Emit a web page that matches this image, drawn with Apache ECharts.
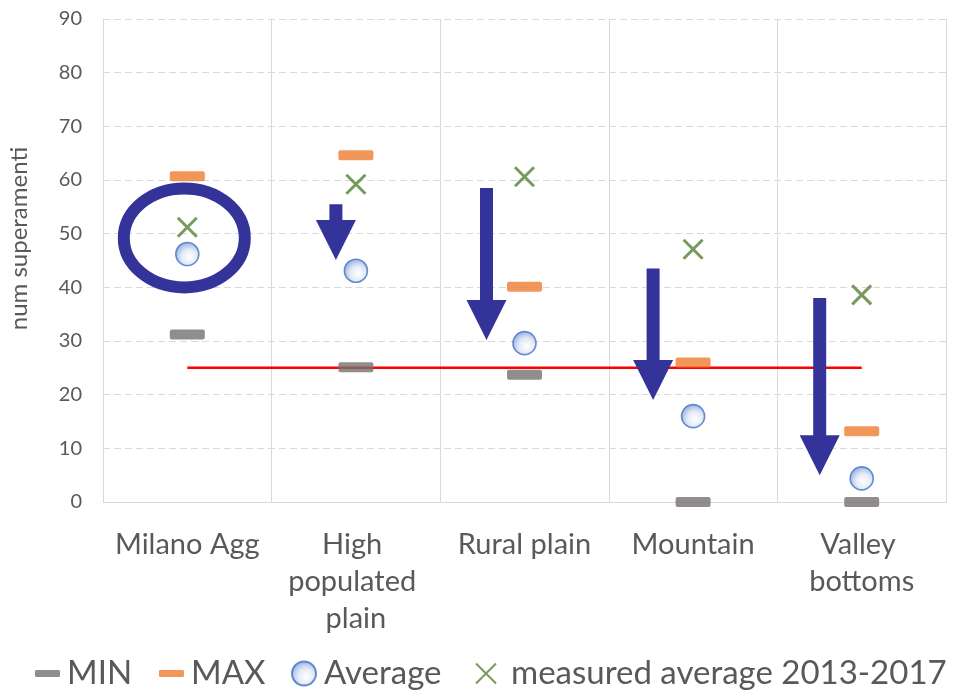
<!DOCTYPE html>
<html>
<head>
<meta charset="utf-8">
<script src="https://cdn.jsdelivr.net/npm/echarts@6/dist/echarts.min.js"></script>
<style>
  html, body { margin: 0; padding: 0; background: #ffffff; }
  #chart { width: 956px; height: 693px; }
</style>
</head>
<body>
<div id="chart"></div>
<script>
// Exceedance counts per zone type
const categories = ['Milano Agg', 'High populated plain', 'Rural plain', 'Mountain', 'Valley bottoms'];
const minValues = [31.2, 25.1, 23.7, 0, 0];
const maxValues = [60.7, 64.6, 40.1, 26.0, 13.2];
const averageValues = [46.2, 43.1, 29.6, 16.0, 4.4];
const measuredValues = [51.2, 59.2, 60.6, 47.1, 38.6];
const limitValues = [25, 25, 25, 25, 25];
const yTicks = { min: 0, max: 90, step: 10 };

// Downward arrows: category index, start value, tip value
const arrowCategories = [1, 2, 3, 4];
const arrowFrom = [55.5, 58.5, 43.5, 38.0];
const arrowTo = [45.1, 30.2, 19.0, 5.0];

// Highlight ring around the first zone
const ringCategory = 0;
const ringValue = 49.2;

const TEXT = '#595959';
const GRID = '#d9d9d9';
const FONT = 'Lato';
const ARROW_COLOR = '#333399';
const arrowShift = [-20, -38, -40, -42];
const DASH_SYMBOL = 'path://M2,0H33Q35,0 35,2V8Q35,10 33,10H2Q0,10 0,8V2Q0,0 2,0Z';

const chart = echarts.init(document.getElementById('chart'), null, { renderer: 'canvas' });

function legendAt(name, left, w, h, textGap) {
  return {
    data: [name], left: left, top: 657, padding: 0,
    itemWidth: w, itemHeight: h,
    textStyle: { color: TEXT, fontFamily: FONT, fontSize: 33, padding: [0, 0, 0, textGap] }
  };
}

const option = {
  animation: false,
  backgroundColor: '#ffffff',
  grid: { left: 103, right: 10, top: 19, bottom: 191, outerBoundsMode: 'none', containLabel: false },
  legend: [
    legendAt('MIN', 35, 25, 8, 2),
    legendAt('MAX', 159, 25, 8, 2),
    legendAt('Average', 291, 24, 24, 3),
    legendAt('measured average 2013-2017', 475, 20, 20, 10)
  ],
  xAxis: {
    type: 'category',
    data: categories,
    axisLine: { show: true, lineStyle: { color: GRID, width: 1 } },
    axisTick: { show: false },
    splitLine: { show: true, lineStyle: { color: GRID, width: 1 } },
    axisLabel: {
      color: TEXT, fontFamily: FONT, fontSize: 29, lineHeight: 37,
      margin: 24, width: 160, overflow: 'break', interval: 0, align: 'center'
    }
  },
  yAxis: {
    type: 'value',
    min: yTicks.min, max: yTicks.max, interval: yTicks.step,
    name: 'num superamenti',
    nameLocation: 'middle',
    nameGap: 72,
    nameTextStyle: { color: TEXT, fontFamily: FONT, fontSize: 24, padding: [0, 0, 0, 44] },
    axisLine: { show: true, lineStyle: { color: GRID, width: 1 } },
    axisTick: { show: false },
    splitLine: { show: true, lineStyle: { color: GRID, width: 1, type: [7, 4] } },
    axisLabel: { color: TEXT, fontFamily: FONT, fontSize: 20, margin: 21 }
  },
  series: [
    {
      name: 'limit', type: 'line', data: limitValues, symbol: 'none',
      lineStyle: { color: '#ff0000', width: 2.5 }, z: 2, silent: true
    },
    {
      name: 'MIN', type: 'scatter', data: minValues,
      symbol: DASH_SYMBOL, symbolSize: [35, 10],
      itemStyle: { color: '#767171' }, z: 4
    },
    {
      name: 'MAX', type: 'scatter', data: maxValues,
      symbol: DASH_SYMBOL, symbolSize: [35, 10],
      itemStyle: { color: '#ed7d31' }, z: 4
    },
    {
      name: 'Average', type: 'scatter', data: averageValues,
      symbol: 'circle', symbolSize: 23,
      itemStyle: {
        color: {
          type: 'radial', x: 0.58, y: 0.62, r: 0.62,
          colorStops: [
            { offset: 0, color: '#ffffff' },
            { offset: 0.5, color: '#dde5f5' },
            { offset: 1, color: '#7a9bd8' }
          ]
        },
        borderColor: '#4472c4', borderWidth: 1.6
      },
      z: 4
    },
    {
      name: 'measured average 2013-2017', type: 'scatter', data: measuredValues,
      symbol: 'path://M0,0L10,10M10,0L0,10', symbolSize: 19,
      itemStyle: { color: 'rgba(0,0,0,0)', borderColor: '#548235', borderWidth: 3 },
      z: 4
    },
    {
      name: 'arrows', type: 'custom', z: 5, silent: true,
      data: arrowCategories.map((c, i) => [c, arrowFrom[i], arrowTo[i]]),
      encode: { x: 0, y: [1, 2] },
      renderItem: function (params, api) {
        const top = api.coord([api.value(0), api.value(1)]);
        const tip = api.coord([api.value(0), api.value(2)]);
        const x = top[0] + arrowShift[params.dataIndex];
        const half = 6.5, headHalf = 20, headLen = 40;
        const neck = tip[1] - headLen;
        return {
          type: 'polygon',
          shape: {
            points: [
              [x - half, top[1]], [x + half, top[1]], [x + half, neck],
              [x + headHalf, neck], [x, tip[1]], [x - headHalf, neck], [x - half, neck]
            ]
          },
          style: { fill: ARROW_COLOR }
        };
      }
    },
    {
      name: 'ring', type: 'custom', z: 3, silent: true,
      data: [[ringCategory, ringValue]],
      renderItem: function (params, api) {
        const c = api.coord([api.value(0), api.value(1)]);
        return {
          type: 'ellipse',
          shape: { cx: c[0] - 3, cy: c[1], rx: 60.5, ry: 49.5 },
          style: { fill: 'none', stroke: ARROW_COLOR, lineWidth: 12 }
        };
      }
    }
  ]
};

chart.setOption(option);
</script>
</body>
</html>
